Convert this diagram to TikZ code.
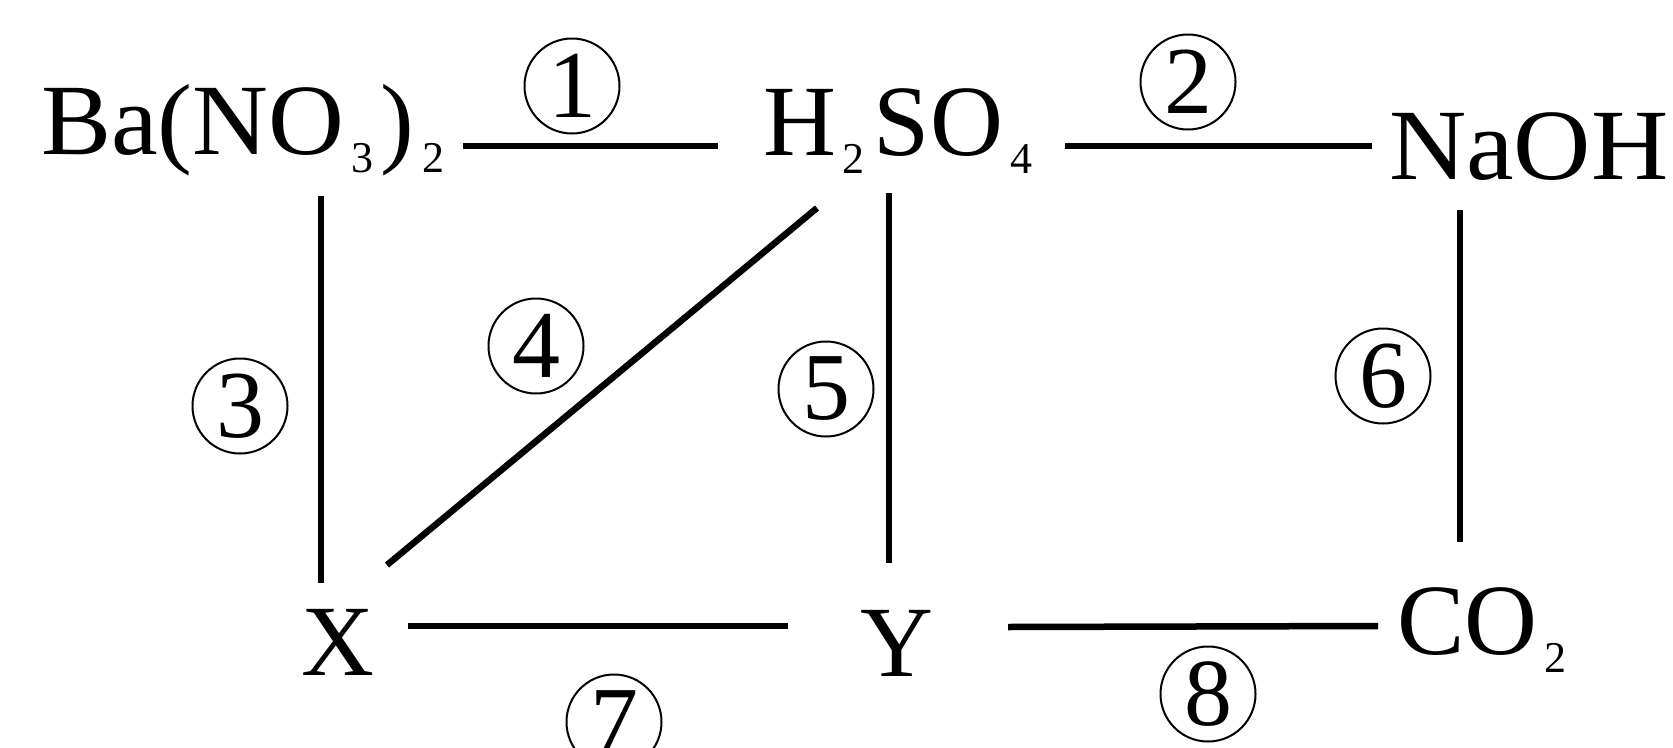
\documentclass[tikz,border=0pt]{standalone}
\usepackage{fontspec}
\setmainfont{Liberation Serif}
\usetikzlibrary{calc}
\newcommand\chemsub[2][9pt]{\hspace{7pt}\raisebox{-18pt}{\fontsize{44}{44}\selectfont #2}\hspace{#1}}
\tikzset{
  chem/.style={inner sep=0pt, outer sep=0pt, anchor=base west, font=\fontsize{101}{101}\selectfont},
  num/.style={circle, draw, line width=2pt, minimum size=95pt, inner sep=0pt, font=\fontsize{96}{96}\selectfont},
  bond/.style={line width=6.5pt}
}
\begin{document}
\begin{tikzpicture}[x=1pt,y=-1pt]
\useasboundingbox (0,0) rectangle (1673,747);
% substances
\node[chem] (ba) at (41,154) {\scalebox{1.04}[1]{Ba(NO}\chemsub[7pt]{3})\hspace{8pt}\raisebox{-18pt}{\fontsize{44}{44}\selectfont 2}};
\node[chem] (h2) at (763,155) {H\chemsub{2}SO\chemsub[0pt]{4}};
\node[chem] (naoh) at (1389,179) {\scalebox{1.06}[1]{NaOH}};
\node[chem] (xx) at (301,675) {X};
\node[chem] (yy) at (860,676) {Y};
\node[chem] (co2) at (1397,654) {CO\chemsub[0pt]{2}};
% connectors
\draw[bond] ($(ba.base west)+(422,-8)$) -- ($(h2.base west)+(-45,-9)$);
\draw[bond] ($(h2.base east)+(33,-9)$) -- ($(naoh.base west)+(-17,-33)$);
\draw[bond] ($(ba.base west)+(280,42)$) -- ($(xx.base west)+(20,-92)$);
\draw[bond] ($(xx.base west)+(86,-110)$) -- ($(h2.base west)+(54,53)$);
\draw[bond] ($(h2.base west)+(126,38)$) -- ($(yy.base west)+(29,-113)$);
\draw[bond] ($(naoh.base west)+(71,31)$) -- ($(co2.base west)+(63,-112)$);
\draw[bond] ($(xx.base west)+(107,-49)$) -- ($(yy.base west)+(-72,-50)$);
\draw[bond] ($(yy.base west)+(148,-49)$) -- ($(co2.base west)+(-19,-28)$);
% reaction numbers
\node[num] (n1) at (572,86) {1};
\node[num] (n2) at (1188,82) {2};
\node[num] (n3) at (240,406) {3};
\node[num] (n4) at (536,346) {4};
\node[num] (n5) at (826,389) {5};
\node[num] (n6) at (1383,376) {6};
\node[num] (n7) at (614,722) {7};
\node[num] (n8) at (1208,694) {8};
\end{tikzpicture}
\end{document}
